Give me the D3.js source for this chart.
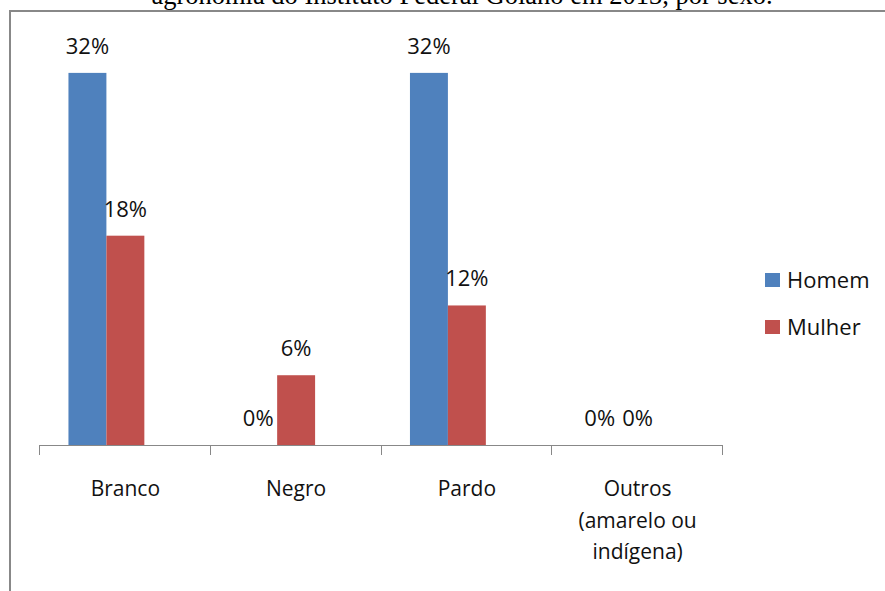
<!DOCTYPE html>
<html><head><meta charset="utf-8">
<script src="https://cdn.jsdelivr.net/npm/d3@7"></script>
<style>body{margin:0;background:#fff}svg{display:block}</style>
</head><body>
<svg id="c" width="885" height="591"></svg>
<script>
const categories = ["Branco", "Negro", "Pardo", "Outros (amarelo ou indígena)"];
const categoryLines = [["Branco"], ["Negro"], ["Pardo"], ["Outros", "(amarelo ou", "indígena)"]];
const seriesNames = ["Homem", "Mulher"];
const homem = [0.32, 0.00, 0.32, 0.00];
const mulher = [0.18, 0.06, 0.12, 0.00];
const colors = ["#4F81BD", "#C0504D"];
const titleText = "agronomia do Instituto Federal Goiano em 2013, por sexo.";

const svg = d3.select("#c");
const font = "'Open Sans', sans-serif";

// title (cut off at top, as in the reference)
svg.append("text").attr("x", 462).attr("y", 4).attr("text-anchor", "middle")
  .attr("font-family", "'Liberation Serif', 'Times New Roman', serif")
  .attr("font-size", 26.5).attr("fill", "#000").text(titleText);

// chart frame
svg.append("path").attr("d", "M10,591 V11 H885").attr("fill", "none")
  .attr("stroke", "#888").attr("stroke-width", 2);

const x0 = d3.scaleBand().domain(categories).range([40, 723]).padding(0);
const x1 = d3.scaleBand().domain(["Homem", "Mulher", "_"]).range([0, x0.bandwidth()])
  .paddingInner(0).paddingOuter(0.75);
const y = d3.scaleLinear().domain([0, 0.35]).range([445, 38]);

const data = [];
categories.forEach((c, i) => {
  data.push({cat: c, s: "Homem", v: homem[i], color: colors[0]});
  data.push({cat: c, s: "Mulher", v: mulher[i], color: colors[1]});
});

svg.append("g").selectAll("rect").data(data).join("rect")
  .attr("x", d => x0(d.cat) + x1(d.s))
  .attr("y", d => y(d.v))
  .attr("width", x1.bandwidth())
  .attr("height", d => y(0) - y(d.v))
  .attr("fill", d => d.color);

// axis
const axis = d3.axisBottom(x0).tickSize(10).tickFormat("");
const gAx = svg.append("g").attr("transform", `translate(0,${y(0)})`).call(axis);
gAx.select(".domain").attr("stroke", "#888").attr("d", `M39.5,0.5H722.5`);
gAx.selectAll(".tick").remove();
x0.domain().concat(["_end"]).forEach((c, i) => {
  const xx = i < categories.length ? x0(c) : x0.range()[1];
  gAx.append("line").attr("x1", Math.round(xx) - 0.5).attr("x2", Math.round(xx) - 0.5)
    .attr("y1", 0).attr("y2", 10).attr("stroke", "#888");
});

// category labels
categories.forEach((c, i) => {
  const t = svg.append("text").attr("text-anchor", "middle")
    .attr("font-family", font).attr("font-size", 21).attr("fill", "#111");
  categoryLines[i].forEach((ln, j) => {
    t.append("tspan").attr("x", x0(c) + x0.bandwidth() / 2).attr("y", 496 + j * 31.5).text(ln);
  });
});

// data labels
svg.append("g").selectAll("text").data(data).join("text")
  .attr("x", d => x0(d.cat) + x1(d.s) + x1.bandwidth() / 2)
  .attr("y", d => y(d.v) - 19)
  .attr("text-anchor", "middle")
  .attr("font-family", font).attr("font-size", 22).attr("fill", "#111")
  .text(d => d3.format(".0%")(d.v));

// legend
const leg = svg.append("g");
seriesNames.forEach((s, i) => {
  leg.append("rect").attr("x", 765).attr("y", 273 + i * 47).attr("width", 15).attr("height", 14)
    .attr("fill", colors[i]);
  leg.append("text").attr("x", 787).attr("y", 288 + i * 47)
    .attr("font-family", font).attr("font-size", 22).attr("fill", "#111").text(s);
});
</script>
</body></html>
